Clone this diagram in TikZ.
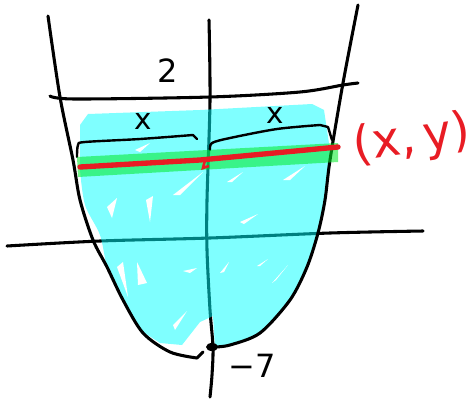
\documentclass[tikz,border=0pt]{standalone}
\usepackage{fontspec}
\setsansfont{DejaVu Sans}
\definecolor{hcyan}{RGB}{0,255,255}
\definecolor{hgreen}{RGB}{0,235,40}
\definecolor{pred}{RGB}{232,28,36}
\begin{document}
\begin{tikzpicture}[x=0.75pt,y=-0.75pt,
  pen/.style={line width=2.3pt, line cap=round, line join=round, black},
  hl/.style={fill=hcyan, fill opacity=0.5},
  streak/.style={fill=white, draw=none},
  hand/.style={font=\sffamily, inner sep=0pt}]
\useasboundingbox (0,0) rectangle (473,400);
% axes (under the highlight)
\draw[pen] plot[smooth] coordinates {(209,20) (210,100) (207,200) (207,250) (210,310) (213,347) (212,375) (210,397)};
\draw[pen] plot[smooth] coordinates {(7,246) (100,241) (210,238) (330,233) (423,231)};
% cyan shading
\fill[hl] (80,125) -- (88,114) -- (200,110) -- (312,104) -- (324,110) -- (330,150)
  -- plot[smooth] coordinates {(330,160) (325,200) (318,233) (307,267) (290,300) (260,333) (230,345) (215,347)}
  -- (213,316) -- (200,322) -- (182,345) -- (160,343)
  -- plot[smooth] coordinates {(140,330) (125,305) (108,270) (100,235) (85,205) (80,170)} -- cycle;
% white gaps of the scribble
\fill[streak] (107,207) -- (117,198) -- (112,218) -- cycle;
\fill[streak] (117,267) -- (123,262) -- (128,297) -- cycle;
\fill[streak] (137,262) -- (147,283) -- (138,285) -- cycle;
\fill[streak] (146,200) -- (153,196) -- (150,222) -- cycle;
\fill[streak] (173,325) -- (187,311) -- (175,330) -- cycle;
\fill[streak] (183,271) -- (197,268) -- (190,273) -- cycle;
\fill[streak] (240,222) -- (258,214) -- (244,224) -- cycle;
\fill[streak] (272,283) -- (288,265) -- (276,280) -- cycle;
\fill[streak] (220,273) -- (229,262) -- (224,272) -- cycle;
\fill[streak] (257,266) -- (268,259) -- (260,266) -- cycle;
\fill[streak] (135,150) -- (150,143) -- (140,152) -- cycle;
\fill[streak] (173,195) -- (203,172) -- (180,195) -- cycle;
\fill[streak] (227,182) -- (243,172) -- (232,182) -- cycle;
\fill[streak] (283,180) -- (305,166) -- (290,180) -- cycle;
% parabola
\draw[pen] plot[smooth] coordinates {(48,16) (60,97) (73,160) (80,200) (93,240) (107,267) (123,300) (143,333) (170,352) (197,358)}
  -- (203,352);
\draw[pen] plot[smooth] coordinates {(214,347) (230,345) (260,333) (290,300) (307,267) (318,233) (325,200) (330,160) (343,83) (358,5)};
\fill (212,347) ellipse (6 and 4);
% top line
\draw[pen] plot[smooth] coordinates {(50,96) (75,99) (210,97) (300,92) (343,85) (358,83)};
\node[hand, font=\sffamily\fontsize{24}{24}\selectfont] (two) at (168,71) {2};
% brackets
\draw[pen, line width=1.8pt] plot[smooth] coordinates {(77,157) (78,145) (85,142) (140,139) (193,135)} -- (197,139);
\draw[pen, line width=1.8pt] plot[smooth] coordinates {(210,150) (212,143) (230,138) (277,129) (320,125)} -- (328,127) -- (332,140);
\node[hand, font=\sffamily\fontsize{22}{22}\selectfont] (xl) at (143,121) {x};
\node[hand, font=\sffamily\fontsize{22}{22}\selectfont] (xr) at (275,115) {x};
% green strip and red segment
\fill[hgreen, fill opacity=0.55] (77,157) -- (338,143) -- (338,162) -- (78,177) -- cycle;
\draw[line width=4pt, pred, line cap=round] (80,167) -- (200,160) -- (338,147);
\draw[line width=2pt, pred] (205,160) -- (203,168) -- (209,166);
\node[hand, text=pred, rotate=8, font=\sffamily\fontsize{36}{36}\selectfont] (pt) at (412,140) {(x,\,y)};
\node[hand, font=\sffamily\fontsize{24}{24}\selectfont] (m7) at (252,366) {−7};
\end{tikzpicture}
\end{document}
